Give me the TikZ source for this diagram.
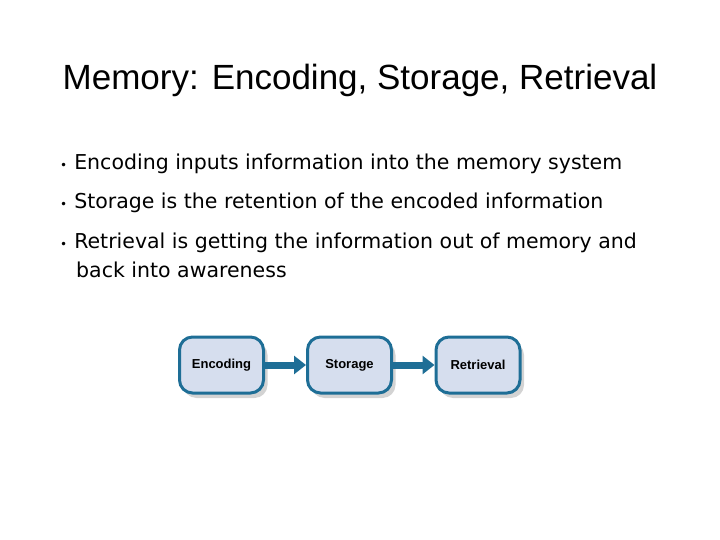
\documentclass[tikz,border=0pt]{standalone}
\usepackage{fontspec}
\setmainfont{Liberation Sans}
\newfontfamily\bulletfont{DejaVu Sans}
\usetikzlibrary{positioning,shadows,arrows.meta}
\definecolor{stepfill}{RGB}{214,222,238}
\definecolor{stepline}{RGB}{30,110,150}
\tikzset{
  stage/.style={draw=stepline, line width=3pt, fill=stepfill, rounded corners=13pt,
    minimum width=84pt, minimum height=56pt, font=\bfseries\fontsize{13}{15}\selectfont,
    drop shadow={shadow xshift=4pt, shadow yshift=-5pt, opacity=.35}},
  flow/.style={draw=stepline, line width=7pt, -{Triangle[length=12pt,width=18pt]}},
  item/.style={anchor=base west, inner sep=0pt, font=\bulletfont\fontsize{20.5}{24}\selectfont}
}
\begin{document}
\begin{tikzpicture}[x=1pt,y=-1pt]
    \useasboundingbox (0,0) rectangle (720,540);
    % title
    \node[font=\fontsize{35}{40}\selectfont] (title) at (360,80) {Memory: Encoding, Storage, Retrieval};

    % bullets
    \node[item] (b1) at (60,170) {{\fontsize{12}{12}\selectfont\textbullet}\hspace{7pt}Encoding inputs information into the memory system};
    \node[item] (b2) at (60,209) {{\fontsize{12}{12}\selectfont\textbullet}\hspace{7pt}Storage is the retention of the encoded information};
    \node[item] (b3) at (60,248) {{\fontsize{12}{12}\selectfont\textbullet}\hspace{7pt}Retrieval is getting the information out of memory and};
    \node[item] (b3b) at (76,277) {back into awareness};

    % flow
    \node[stage] (enc) at (221.5,365) {Encoding};
    \node[stage] (sto) at (349.5,365) {Storage};
    \node[stage] (ret) at (478,365) {Retrieval};

    \draw[flow] (enc) -- (sto);
    \draw[flow] (sto) -- (ret);
\end{tikzpicture}
\end{document}
